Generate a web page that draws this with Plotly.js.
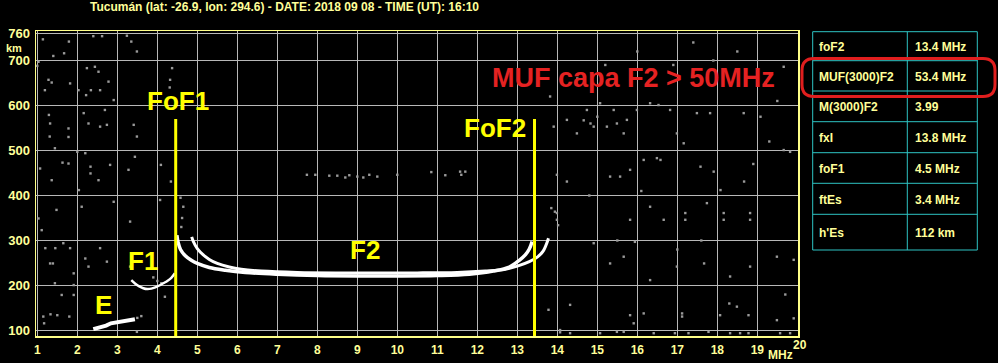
<!DOCTYPE html>
<html>
<head>
<meta charset="utf-8">
<script src="https://cdn.plot.ly/plotly-3.0.1.min.js"></script>
<style>html,body{margin:0;padding:0;background:#000;}#chart{width:998px;height:363px;}</style>
</head>
<body>
<div id="chart"></div>
<script>
// ---- data ----
const titleText = "Tucumán (lat: -26.9, lon: 294.6) - DATE: 2018 09 08 - TIME (UT): 16:10";
const freqTicks = [1,2,3,4,5,6,7,8,9,10,11,12,13,14,15,16,17,18,19,20];
const heightTicks = [100,200,300,400,500,600,700,760];

// F2 ordinary trace
const f2oFreq = [4.49,4.52,4.58,4.7,4.85,5.0,5.3,5.7,6.2,7.0,8.0,9.0,10.0,11.0,11.8,12.4,12.8,13.05,13.2,13.3,13.37];
const f2oHeight = [312,296,280,266,256,249,240,234,229,225,222,221,221,222,225,232,241,256,268,281,298];
// F2 extraordinary trace
const f2xFreq = [4.86,4.9,5.0,5.15,5.3,5.5,5.8,6.1,6.6,7.5,8.5,9.5,10.5,11.5,12.2,12.7,13.0,13.3,13.5,13.65,13.78];
const f2xHeight = [308,298,282,268,258,249,241,236,232,229,228,228,228,229,232,236,243,253,263,277,305];
// F1 trace
const f1Freq = [3.35,3.45,3.55,3.65,3.75,3.85,3.95,4.05,4.15,4.25,4.35,4.44];
const f1Height = [212,204,198,194,192,193,196,200,205,210,217,227];
// E trace
const eFreq = [2.4,2.5,2.6,2.72,2.84,2.96,3.09,3.24,3.34,3.44];
const eHeight = [103,105,107,111,116,118,120,123,124,125];

// critical frequencies
const foF1 = 4.46, foF2 = 13.43;
const markerTop = 570;

// scattered echoes / noise
const noiseFreq = [1.14,1.79,1.4,1.67,2.4,2.62,3.24,3.35,3.49,1.03,1.0,1.28,1.36,1.19,1.82,2.03,2.24,2.44,2.53,2.78,2.34,2.22,2.57,2.91,2.69,1.29,1.32,2.16,2.28,1.78,1.78,2.57,2.74,3.41,3.49,3.44,1.31,1.44,2.0,2.2,1.63,1.78,2.33,2.33,2.53,1.07,1.36,2.82,3.28,4.09,4.34,4.37,4.32,4.31,2.04,2.11,2.91,1.48,1.03,1.11,1.65,1.82,1.45,1.2,1.32,1.39,2.2,2.28,2.57,2.74,1.91,1.44,1.61,1.91,1.91,1.15,1.33,1.5,1.8,1.17,3.32,3.32,4.07,4.19,3.49,
 7.74,7.95,8.3,8.5,8.7,8.8,9.0,9.15,9.3,9.5,10.0,10.85,11.2,11.6,11.57,11.7,
 4.6,4.62,4.65,4.58,13.85,13.94,14.02,3.9,4.0,4.1,3.5,3.6,
 14.66,14.83,14.91,15.0,16.32,16.53,16.49,15.94,13.91,14.24,14.49,15.24,15.49,15.74,15.66,15.99,15.41,15.07,14.74,16.82,16.99,17.49,17.82,18.66,19.08,19.66,19.66,19.82,17.58,17.91,18.08,18.67,17.16,16.58,16.16,15.32,15.57,15.82,14.24,13.99,16.32,16.66,17.2,17.2,17.74,18.16,18.16,18.82,18.82,15.82,14.91,15.32,15.66,16.32,16.99,17.67,18.32,18.82,19.49,19.91,13.99,13.99,13.82,
 14.07,14.07,14.32,14.32,13.78,15.07,15.49,15.66,15.82,15.91,16.16,16.41,16.94,17.12,17.12,17.28,17.78,18.07,18.32,18.49,18.57,18.78,18.78,19.49,19.57,19.82,19.91,
 17.9,18.5,19.2,19.5,16.0,16.9,17.4,14.5,15.2,18.9,19.3,16.1,17.0,15.5,14.8,19.7,18.3,17.6];
const noiseHeight = [747,742,710,716,754,754,755,742,720,697,688,657,651,634,649,634,683,686,675,653,634,623,634,612,590,579,560,583,560,549,530,553,557,557,531,486,531,505,497,494,473,471,464,449,434,460,434,468,457,468,431,683,657,640,412,375,386,368,349,323,294,283,283,283,249,249,260,242,283,253,227,205,179,179,201,131,136,134,131,116,242,342,390,175,97,
 446,446,444,444,440,445,442,440,446,442,446,452,445,446,453,453,
 330,350,375,395,372,364,334,218,210,205,128,132,
 567,560,553,575,605,601,483,297,553,568,538,553,560,568,538,590,590,605,590,590,538,583,583,583,575,686,501,497,464,453,412,431,516,479,479,442,442,457,431,446,375,346,361,346,383,361,346,361,346,346,294,249,264,212,242,249,220,242,264,257,361,346,620,
 101,96,94,157,146,94,97,97,134,116,138,94,94,138,131,94,97,134,94,153,94,134,94,123,94,94,127,
 700,720,650,610,720,690,740,660,690,470,520,410,280,300,400,180,160,300];

// result table
const tableLabels = ["foF2","MUF(3000)F2","M(3000)F2","fxI","foF1","ftEs","h'Es"];
const tableValues = ["13.4 MHz","53.4 MHz","3.99","13.8 MHz","4.5 MHz","3.4 MHz","112 km"];

// layer labels
const layerNames = ["FoF1","FoF2","F1","F2","E"];
const layerFreq = [4.51,12.43,3.65,9.19,2.66];
const layerHeight = [610,550,254,279,157];
const mufNote = "MUF capa F2 > 50MHz";
const mufFreq = 15.9, mufHeight = 662;

// ---- geometry (pixels) ----
const PL = 36, PR = 798, PT = 31, PB = 336;
const px = x => (x - PL) / (PR - PL);
const py = y => (PB - y) / (PB - PT);

const YEL = '#ffff99';
const font = (size, color) => ({family: 'Liberation Sans, Arial, sans-serif', size: size, color: color, weight: 'bold'});

const traces = [
  {x: noiseFreq, y: noiseHeight, mode: 'markers', type: 'scatter',
   marker: {symbol: 'square', size: 2.4, color: '#9a9a9a', line: {width: 0}}, hoverinfo: 'skip'},
  {x: eFreq, y: eHeight, mode: 'lines', line: {color: '#ffffff', width: 4}},
  {x: f1Freq, y: f1Height, mode: 'lines', line: {color: '#ffffff', width: 2.5, shape: 'spline'}},
  {x: f2oFreq, y: f2oHeight, mode: 'lines', line: {color: '#ffffff', width: 3.5, shape: 'spline'}},
  {x: f2xFreq, y: f2xHeight, mode: 'lines', line: {color: '#ffffff', width: 3, shape: 'spline'}},
  {x: [foF1, foF1], y: [markerTop, 80], mode: 'lines', line: {color: '#ffff00', width: 3}},
  {x: [foF2, foF2], y: [markerTop, 80], mode: 'lines', line: {color: '#ffff00', width: 3}}
];

const annotations = [];
layerNames.forEach((n, i) => annotations.push({
  x: layerFreq[i], y: layerHeight[i], xref: 'x', yref: 'y', text: n, showarrow: false,
  font: font(26, '#ffff00'), xanchor: 'center', yanchor: 'middle'
}));
annotations.push({x: mufFreq, y: mufHeight, xref: 'x', yref: 'y', text: mufNote, showarrow: false,
  font: font(27, '#e52222'), xanchor: 'center', yanchor: 'middle'});
annotations.push({x: px(4), y: py(48), xref: 'paper', yref: 'paper', text: 'km', showarrow: false,
  font: font(11, YEL), xanchor: 'left', yanchor: 'middle'});
annotations.push({x: px(766), y: py(355), xref: 'paper', yref: 'paper', text: 'MHz', showarrow: false,
  font: font(12, YEL), xanchor: 'left', yanchor: 'middle'});
annotations.push({x: px(791), y: py(345), xref: 'paper', yref: 'paper', text: String(freqTicks[freqTicks.length - 1]), showarrow: false,
  font: font(12, YEL), xanchor: 'left', yanchor: 'middle'});

// table
const TX0 = 812.7, TX1 = 977.3, TXM = 907.3;
const rowLines = [31.7, 60.7, 91, 121.7, 152.7, 183.3, 214.3, 250];
const shapes = [];
const CY = '#2ec4c4';
shapes.push({type: 'rect', xref: 'paper', yref: 'paper', x0: px(TX0), x1: px(TX1), y0: py(rowLines[0]), y1: py(rowLines[7]), line: {color: CY, width: 1}});
for (let i = 1; i < 7; i++) {
  shapes.push({type: 'line', xref: 'paper', yref: 'paper', x0: px(TX0), x1: px(TX1), y0: py(rowLines[i]), y1: py(rowLines[i]), line: {color: CY, width: 1}});
}
shapes.push({type: 'line', xref: 'paper', yref: 'paper', x0: px(TXM), x1: px(TXM), y0: py(rowLines[0]), y1: py(rowLines[7]), line: {color: CY, width: 1}});
tableLabels.forEach((t, i) => {
  const yc = (rowLines[i] + rowLines[i + 1]) / 2 + 1;
  annotations.push({x: px(817), y: py(yc), xref: 'paper', yref: 'paper', text: t, showarrow: false,
    font: font(12, YEL), xanchor: 'left', yanchor: 'middle'});
  annotations.push({x: px(912.5), y: py(yc), xref: 'paper', yref: 'paper', text: tableValues[i], showarrow: false,
    font: font(12, YEL), xanchor: 'left', yanchor: 'middle'});
});
// red rounded highlight
(function () {
  const x0 = 802, x1 = 995, y0 = 58.5, y1 = 96.5, r = 12;
  const X = v => px(v), Y = v => py(v);
  const path = `M ${X(x0 + r)},${Y(y0)} L ${X(x1 - r)},${Y(y0)} Q ${X(x1)},${Y(y0)} ${X(x1)},${Y(y0 + r)} ` +
    `L ${X(x1)},${Y(y1 - r)} Q ${X(x1)},${Y(y1)} ${X(x1 - r)},${Y(y1)} L ${X(x0 + r)},${Y(y1)} ` +
    `Q ${X(x0)},${Y(y1)} ${X(x0)},${Y(y1 - r)} L ${X(x0)},${Y(y0 + r)} Q ${X(x0)},${Y(y0)} ${X(x0 + r)},${Y(y0)} Z`;
  shapes.push({type: 'path', xref: 'paper', yref: 'paper', path: path, line: {color: '#e01e1e', width: 3}});
})();

const layout = {
  width: 998, height: 363,
  paper_bgcolor: '#000', plot_bgcolor: '#000',
  showlegend: false,
  margin: {l: PL, r: 998 - PR, t: PT, b: 363 - PB, pad: 0, autoexpand: false},
  title: {text: titleText, font: font(12, YEL), x: 90 / 998, xanchor: 'left', xref: 'container',
          y: 1 - 7 / 363, yref: 'container', yanchor: 'middle'},
  xaxis: {range: [0.9675, 20.0175], tickvals: freqTicks.slice(0, -1), ticktext: freqTicks.slice(0, -1).map(String),
    showgrid: true, gridcolor: '#b8b8b8', gridwidth: 1, zeroline: false,
    showline: true, mirror: true, linecolor: '#ffff88', linewidth: 1.5,
    ticks: '', tickfont: font(12, YEL), ticklabelstandoff: 2, fixedrange: true},
  yaxis: {range: [87.8, 765.5], tickvals: heightTicks, ticktext: heightTicks.map(String),
    showgrid: true, gridcolor: '#b8b8b8', gridwidth: 1, zeroline: false,
    showline: true, mirror: true, linecolor: '#ffff88', linewidth: 1.5,
    ticks: '', tickfont: font(13, YEL), ticklabelstandoff: 2, fixedrange: true},
  annotations: annotations,
  shapes: shapes
};

Plotly.newPlot('chart', traces, layout, {displayModeBar: false, staticPlot: true});
</script>
</body>
</html>
